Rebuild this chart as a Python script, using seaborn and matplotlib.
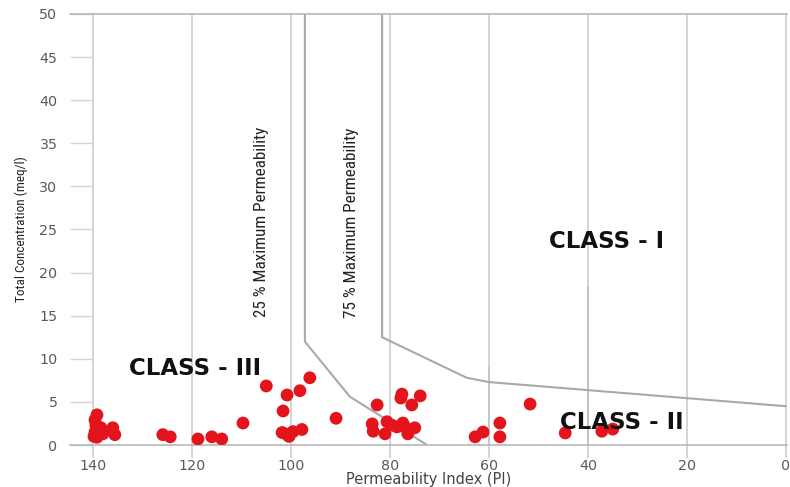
import matplotlib
matplotlib.use("Agg")
import matplotlib.pyplot as plt
from matplotlib import font_manager
import seaborn as sns
import pandas as pd

# Permeability Index (PI) and total concentration (meq/l) of the samples
pi_values = [
    139.2, 139.6, 139.4, 138.4, 136.0, 139.6, 138.6, 135.6, 139.2, 138.0, 139.8,
    125.9, 124.4, 118.8, 116.0, 114.0, 109.7, 105.0, 101.6, 100.8, 98.2, 96.2,
    101.8, 100.4, 99.6, 97.8, 100.9,
    90.9, 82.6, 77.6, 77.8, 73.9, 75.6, 83.6, 83.4, 81.0, 80.6, 79.6, 77.4,
    77.0, 75.0, 76.4, 78.6,
    57.8, 57.8, 61.2, 62.8, 51.7, 44.6, 37.2, 35.0,
]
tc_values = [
    3.5, 2.9, 2.3, 2.0, 2.0, 1.5, 1.7, 1.2, 0.9, 1.3, 1.0,
    1.2, 0.95, 0.7, 0.95, 0.7, 2.55, 6.85, 3.95, 5.8, 6.3, 7.8,
    1.45, 1.0, 1.55, 1.8, 1.25,
    3.1, 4.65, 5.9, 5.45, 5.7, 4.65, 2.45, 1.6, 1.3, 2.7, 2.3, 2.55,
    2.1, 2.0, 1.3, 2.1,
    2.55, 0.95, 1.5, 0.95, 4.75, 1.4, 1.6, 1.85,
]

# Class boundary curves (Doneen chart)
line25_pi = [97.2, 97.2, 88.1, 72.5]
line25_tc = [50.0, 12.0, 5.6, 0.0]
line75_pi = [81.6, 81.6, 64.5, 60.0, 0.0]
line75_tc = [50.0, 12.5, 7.8, 7.3, 4.5]

x_ticks = [140, 120, 100, 80, 60, 40, 20, 0]
y_ticks = [0, 5, 10, 15, 20, 25, 30, 35, 40, 45, 50]

df = pd.DataFrame({"PI": pi_values, "TC": tc_values})

sns.set_theme(style="white")
plt.rcParams["font.family"] = ["DejaVu Sans"]

# pick a narrow face for the rotated captions if one is installed
narrow_file = None
for f in font_manager.fontManager.ttflist:
    name = f.name.lower()
    fname = f.fname.lower()
    if ("narrow" in name or "condensed" in fname) and f.weight in (400, "normal", "regular") \
            and f.style == "normal":
        narrow_file = f.fname
        if "liberation" in name:
            break
if narrow_file:
    narrow_fp = lambda size: font_manager.FontProperties(fname=narrow_file, size=size)
    narrow_size = 12.3
    ylab_size = 9.5
else:
    narrow_fp = lambda size: font_manager.FontProperties(family="Liberation Sans", size=size)
    narrow_size = 11.5
    ylab_size = 9

fig = plt.figure(figsize=(7.9, 4.87), dpi=100)
ax = fig.add_axes([0.0886, 0.0862, 0.9076, 0.8851])

grid_col = "#d4d4d4"
for xt in x_ticks:
    ax.axvline(xt, color=grid_col, lw=1.4, zorder=0)

# darker partial guides inside class I / II
ax.plot([40, 40], [0, 18.3], color="#bdbdbd", lw=1.2, zorder=1)
ax.plot([60, 60], [0, 9.0], color="#c4c4c4", lw=1.2, zorder=1)

line_col = "#a9a9a9"
ax.plot(line25_pi, line25_tc, color=line_col, lw=1.5, zorder=2)
ax.plot(line75_pi, line75_tc, color=line_col, lw=1.5, zorder=2)

sns.scatterplot(data=df, x="PI", y="TC", ax=ax, color="#e3141c",
                s=85, edgecolor="none", linewidth=0, zorder=3, legend=False)

ax.set_xlim(144.65, -0.2)
ax.set_ylim(0, 50)
ax.set_xticks(x_ticks)
ax.set_yticks(y_ticks)

ax.tick_params(axis="y", direction="in", length=16.5, width=1.0,
               color=grid_col, labelcolor="#5a5a5a", labelsize=10.3, pad=9,
               left=True)
ax.tick_params(axis="x", direction="out", length=9, width=1.4,
               color=grid_col, labelcolor="#5a5a5a", labelsize=10.3, pad=1,
               bottom=True)

for side in ["left", "right"]:
    ax.spines[side].set_visible(False)
for side in ["top", "bottom"]:
    ax.spines[side].set_color("#b8b8b8")
    ax.spines[side].set_linewidth(1.2)

ax.set_xlabel("Permeability Index (PI)", fontsize=10.5, color="#444444",
              labelpad=-1)
ax.set_ylabel("Total Concentration (meq/l)", fontproperties=narrow_fp(ylab_size),
              color="#222222", labelpad=8)

ax.text(105.9, 25.9, "25 % Maximum Permeability", rotation=90,
        ha="center", va="center", fontproperties=narrow_fp(narrow_size),
        color="#222222")
ax.text(87.7, 25.75, "75 % Maximum Permeability", rotation=90,
        ha="center", va="center", fontproperties=narrow_fp(narrow_size),
        color="#222222")

class_kw = dict(fontsize=16.5, fontweight="bold", ha="center", va="center",
                color="#111111")
ax.text(119.4, 8.9, "CLASS - III", **class_kw)
ax.text(36.2, 23.55, "CLASS - I", **class_kw)
ax.text(33.1, 2.67, "CLASS - II", **class_kw)

fig.savefig("out.png", dpi=100)
